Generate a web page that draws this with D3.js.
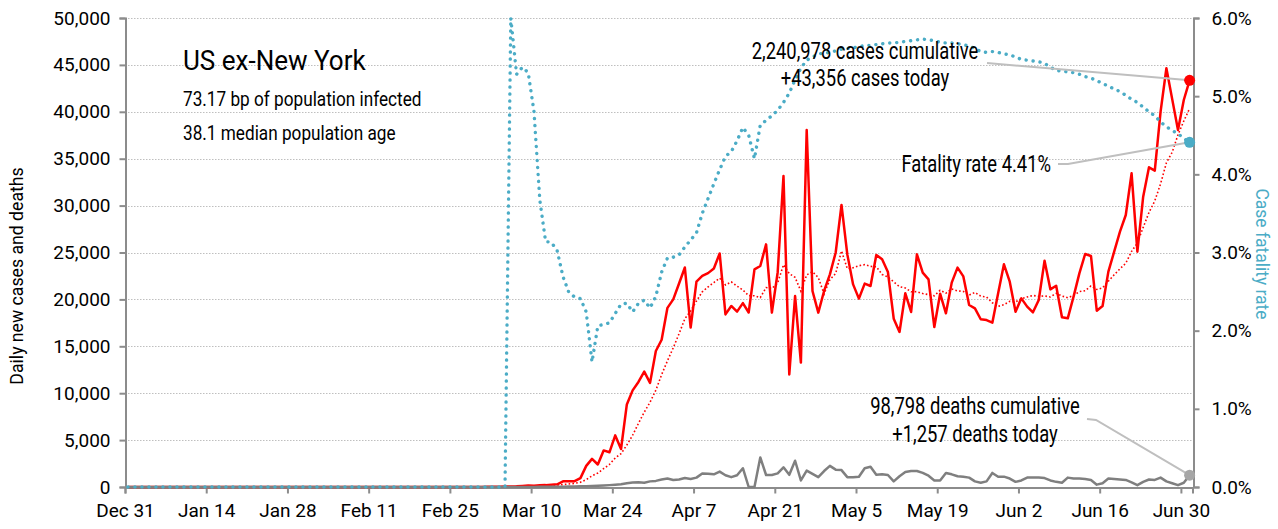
<!DOCTYPE html>
<html>
<head>
<meta charset="utf-8">
<script src="https://cdn.jsdelivr.net/npm/d3@7"></script>
<style>
  body { margin: 0; background: #fff; }
  svg { display: block; }
  text { font-family: Roboto, "Liberation Sans", sans-serif; fill: #000; }
</style>
</head>
<body>
<svg id="chart" width="1278" height="529"></svg>
<script>
// day 0 = Dec 31 2019, one value per day up to Jul 1 2020
const startDate = new Date(2019, 11, 31);
const endDate = new Date(2020, 6, 2);

// daily new cases, US excluding New York
const dailyCases = [
    0, 0, 0, 0, 0, 0, 0, 0, 0, 0, 0, 0, 0, 0, 0, 0, 0, 0, 0, 0, 0, 1, 0, 0, 1, 0, 1, 0, 0, 0,
    1, 0, 1, 0, 0, 0, 0, 0, 0, 0, 0, 0, 0, 0, 0, 0, 0, 0, 0, 0, 0, 0, 0, 0, 2, 0, 5, 3, 2, 8,
    6, 10, 20, 25, 35, 50, 60, 80, 120, 150,
    130, 180, 200, 250, 290, 600, 600, 620, 950, 2250,
    3000, 2400, 3900, 3700, 5500, 4050, 8800, 10300, 11200, 12300,
    11100, 14500, 15700, 19100, 20000, 21700, 23400, 17000, 21900, 22500,
    22800, 23300, 24900, 18400, 19300, 18700, 19600, 18600, 23200, 23560,
    25870, 18590, 22900, 33150, 12000, 20360, 13260, 38060, 20900, 18590,
    20900, 22670, 25000, 30070, 24800, 21600, 20080, 21680, 21430, 24740,
    24270, 22920, 17950, 16530, 20650, 18660, 24800, 22850, 22140, 17060,
    20610, 18520, 21790, 23390, 22450, 19400, 19050, 17880, 17800, 17520,
    20650, 23740, 21890, 18690, 20110, 19230, 18620, 19940, 24130, 21070,
    21460, 18090, 17980, 20290, 22780, 24840, 24630, 18800, 19300, 22960,
    25090, 27220, 29000, 33440, 25090, 30950, 34080, 33730, 40020, 44640,
    41350, 38060, 41260, 43356
];

// daily new deaths
const dailyDeaths = [
    0, 0, 0, 0, 0, 0, 0, 0, 0, 0, 0, 0, 0, 0, 0, 0, 0, 0, 0, 0, 0, 0, 0, 0, 0, 0, 0, 0, 0, 0,
    0, 0, 0, 0, 0, 0, 0, 0, 0, 0, 0, 0, 0, 0, 0, 0, 0, 0, 0, 0, 0, 0, 0, 0, 0, 0, 0, 0, 0, 0,
    0, 0, 1, 2, 3, 3, 5, 5, 8, 10,
    10, 15, 20, 25, 30, 40, 45, 55, 70, 80,
    100, 130, 160, 200, 240, 290, 400, 480, 500, 450,
    600, 650, 800, 900, 750, 800, 950, 850, 1000, 1450,
    1420, 1350, 1640, 1250, 1050, 1250, 2000, 0, 0, 3150,
    1280, 1280, 1450, 2100, 1300, 2800, 700, 1750, 1400, 1050,
    1700, 2250, 1850, 1800, 1050, 1050, 1100, 2000, 2150, 1300,
    1350, 1280, 600, 1150, 1600, 1700, 1700, 1500, 1200, 700,
    700, 1500, 1350, 1150, 1100, 1000, 600, 450, 600, 1500,
    1100, 1100, 900, 550, 700, 1000, 1000, 1000, 950, 700,
    550, 450, 1000, 900, 900, 850, 750, 250, 400, 900,
    850, 800, 750, 500, 200, 550, 800, 750, 1000, 600,
    400, 200, 450, 1257
];

// case fatality rate, cumulative deaths / cumulative cases (%)
const fatalityRate = [
    0, 0, 0, 0, 0, 0, 0, 0, 0, 0, 0, 0, 0, 0, 0, 0, 0, 0, 0, 0, 0, 0, 0, 0, 0, 0, 0, 0, 0, 0,
    0, 0, 0, 0, 0, 0, 0, 0, 0, 0, 0, 0, 0, 0, 0, 0, 0, 0, 0, 0, 0, 0, 0, 0, 0, 0, 0, 0, 0, 0,
    0, 0, 0, 0, 0, 0, 6.0, 5.28, 5.37, 5.30,
    4.80, 3.67, 3.14, 3.13, 3.02, 2.69, 2.49, 2.43, 2.41, 2.24,
    1.60, 2.06, 2.08, 2.10, 2.22, 2.34, 2.35, 2.24, 2.35, 2.39,
    2.29, 2.44, 2.75, 2.93, 2.94, 2.97, 3.07, 3.16, 3.25, 3.50,
    3.69, 3.88, 4.06, 4.23, 4.29, 4.43, 4.60, 4.50, 4.20, 4.63,
    4.69, 4.75, 4.82, 4.92, 5.04, 5.21, 5.36, 5.46, 5.50, 5.54,
    5.55, 5.56, 5.58, 5.60, 5.61, 5.62, 5.63, 5.65, 5.65, 5.66,
    5.67, 5.68, 5.68, 5.69, 5.70, 5.71, 5.72, 5.73, 5.72, 5.71,
    5.69, 5.68, 5.68, 5.67, 5.66, 5.64, 5.61, 5.57, 5.56, 5.57,
    5.56, 5.54, 5.53, 5.50, 5.47, 5.46, 5.45, 5.44, 5.42, 5.37,
    5.33, 5.32, 5.31, 5.30, 5.28, 5.25, 5.23, 5.20, 5.16, 5.13,
    5.09, 5.06, 5.01, 4.96, 4.92, 4.86, 4.80, 4.75, 4.67, 4.61,
    4.56, 4.52, 4.46, 4.41
];

const leftTicks = [0, 5000, 10000, 15000, 20000, 25000, 30000, 35000, 40000, 45000, 50000];
const rightTicks = [0, 1, 2, 3, 4, 5, 6];

const titleLines = ['US ex-New York', '73.17 bp of population infected', '38.1 median population age'];
const casesNote = ['2,240,978 cases cumulative', '+43,356 cases today'];
const deathsNote = ['98,798 deaths cumulative', '+1,257 deaths today'];
const fatalityNote = 'Fatality rate 4.41%';

const colors = {
    cases: '#ff0000',
    deaths: '#7f7f7f',
    rate: '#4bacc6',
    axis: '#8c8c8c',
    grid: '#bfbfbf',
    leader: '#bfbfbf'
};

const svg = d3.select('#chart');
const margin = { top: 18, right: 86, bottom: 42, left: 125 };
const width = +svg.attr('width');
const height = +svg.attr('height');

const days = d3.timeDay.range(startDate, d3.timeDay.offset(startDate, dailyCases.length));
const data = days.map((date, i) => ({
    date: date,
    mid: d3.timeHour.offset(date, 12),
    cases: dailyCases[i],
    deaths: dailyDeaths[i],
    rate: fatalityRate[i] / 100,
    // trailing 7-day average of new cases
    avg: d3.mean(dailyCases.slice(Math.max(0, i - 6), i + 1))
}));

const x = d3.scaleTime()
    .domain([startDate, endDate])
    .range([margin.left, width - margin.right + 0.5]);
const y = d3.scaleLinear()
    .domain([0, 50000])
    .range([height - margin.bottom, margin.top]);
const yRate = d3.scaleLinear()
    .domain([0, 0.06])
    .range([height - margin.bottom, margin.top]);

const x0 = x.range()[0];
const x1 = x.range()[1];

// the original uses a condensed face, so text is squeezed horizontally
function label(parent, str, px, py, size, sx, anchor) {
    return parent.append('text')
        .attr('transform', `translate(${px},${py}) scale(${sx},1)`)
        .attr('text-anchor', anchor || 'start')
        .attr('font-size', size)
        .text(str);
}

// gridlines
svg.append('g')
    .selectAll('line')
    .data(leftTicks.slice(1))
    .enter()
    .append('line')
    .attr('x1', x0)
    .attr('x2', x1)
    .attr('y1', d => Math.round(y(d)) + 0.5)
    .attr('y2', d => Math.round(y(d)) + 0.5)
    .attr('stroke', colors.grid)
    .attr('stroke-width', 1)
    .attr('stroke-dasharray', '1.5,1.5');

// axes
const xAxis = d3.axisBottom(x)
    .tickValues(d3.timeDay.range(startDate, endDate, 14))
    .tickFormat(d3.timeFormat('%b %-d'))
    .tickSize(6)
    .tickPadding(10);

const gx = svg.append('g')
    .attr('transform', `translate(0,${Math.round(y(0)) + 0.5})`)
    .call(xAxis);

const yAxis = d3.axisLeft(y)
    .tickValues(leftTicks)
    .tickFormat(d3.format(','))
    .tickSize(6)
    .tickPadding(9);

const gy = svg.append('g')
    .attr('transform', `translate(${x0 + 0.5},0)`)
    .call(yAxis);

const yRateAxis = d3.axisRight(yRate)
    .tickValues(rightTicks.map(d => d / 100))
    .tickFormat(d3.format('.1%'))
    .tickSize(6)
    .tickPadding(12);

const gr = svg.append('g')
    .attr('transform', `translate(${Math.round(x1) + 0.5},0)`)
    .call(yRateAxis);

[gx, gy, gr].forEach(g => {
    g.select('.domain').attr('stroke', colors.axis).attr('stroke-width', 2);
    g.selectAll('.tick line').attr('stroke', colors.axis).attr('stroke-width', 2);
    g.selectAll('.tick text')
        .attr('font-family', 'Roboto, sans-serif')
        .attr('font-size', 19)
        .attr('fill', '#000');
});
gr.selectAll('.tick text').attr('fill', colors.rate);

// axis titles
svg.append('text')
    .attr('transform', `translate(23,276) rotate(-90) scale(0.93,1)`)
    .attr('text-anchor', 'middle')
    .attr('font-size', 19)
    .text('Daily new cases and deaths');

svg.append('text')
    .attr('transform', `translate(1256,254) rotate(90) scale(0.92,1)`)
    .attr('text-anchor', 'middle')
    .attr('font-size', 19)
    .style('fill', colors.rate)
    .text('Case fatality rate');

// series
const casesLine = d3.line()
    .x(d => x(d.mid))
    .y(d => y(d.cases));

const avgLine = d3.line()
    .x(d => x(d.mid))
    .y(d => y(d.avg));

const deathsLine = d3.line()
    .x(d => x(d.mid))
    .y(d => y(d.deaths));

const rateLine = d3.line()
    .x(d => x(d.mid))
    .y(d => yRate(d.rate));

svg.append('path')
    .datum(data)
    .attr('d', casesLine)
    .attr('fill', 'none')
    .attr('stroke', colors.cases)
    .attr('stroke-width', 2.5)
    .attr('stroke-linejoin', 'round');

svg.append('path')
    .datum(data)
    .attr('d', avgLine)
    .attr('fill', 'none')
    .attr('stroke', colors.cases)
    .attr('stroke-width', 1.6)
    .attr('stroke-dasharray', '1.6,2.2');

svg.append('path')
    .datum(data)
    .attr('d', deathsLine)
    .attr('fill', 'none')
    .attr('stroke', colors.deaths)
    .attr('stroke-width', 2.5)
    .attr('stroke-linejoin', 'round');

svg.append('path')
    .datum(data)
    .attr('d', rateLine)
    .attr('fill', 'none')
    .attr('stroke', colors.rate)
    .attr('stroke-width', 3.4)
    .attr('stroke-linecap', 'round')
    .attr('stroke-dasharray', '0.1,6.9');

// title block
const title = svg.append('g');
label(title, titleLines[0], 183, 70, 28, 0.93);
label(title, titleLines[1], 183, 106, 20, 0.86);
label(title, titleLines[2], 183, 140, 20, 0.86);

// end-of-series annotations
const last = data[data.length - 1];
const lastX = x(last.mid);

const notes = svg.append('g');
casesNote.forEach((t, i) => label(notes, t, 865, 59 + i * 27, 23, 0.8, 'middle'));
deathsNote.forEach((t, i) => label(notes, t, 975, 414 + i * 28, 23, 0.8, 'middle'));
label(notes, fatalityNote, 1051, 172, 23, 0.8, 'end');

const leaders = [
    [[987, 63], [lastX, y(last.cases)]],
    [[1058, 164], [1068, 164], [lastX, yRate(last.rate)]],
    [[1087, 419], [1096, 420], [lastX, y(last.deaths)]]
];

svg.append('g')
    .selectAll('path')
    .data(leaders)
    .enter()
    .append('path')
    .attr('d', d => d3.line()(d))
    .attr('fill', 'none')
    .attr('stroke', colors.leader)
    .attr('stroke-width', 2);

const endDots = [
    { cy: y(last.cases), color: colors.cases },
    { cy: yRate(last.rate), color: colors.rate },
    { cy: y(last.deaths), color: '#a6a6a6' }
];

svg.append('g')
    .selectAll('circle')
    .data(endDots)
    .enter()
    .append('circle')
    .attr('cx', lastX)
    .attr('cy', d => d.cy)
    .attr('r', 5.5)
    .attr('fill', d => d.color);
</script>
</body>
</html>
